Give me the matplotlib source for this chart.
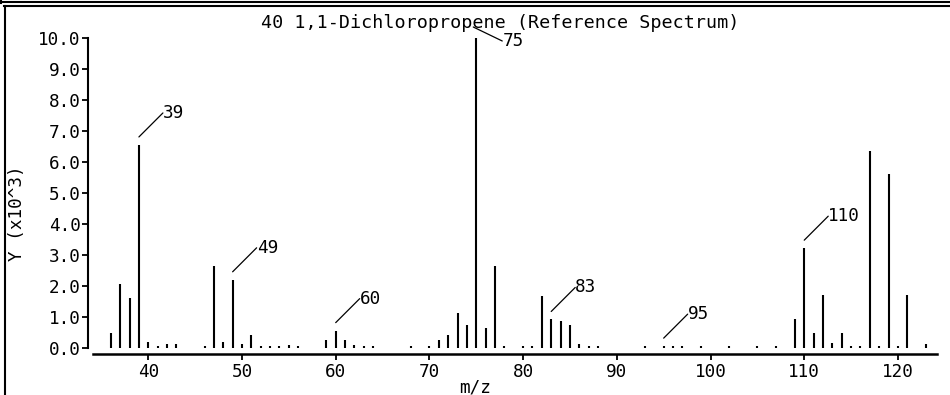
import matplotlib
matplotlib.use('Agg')
import matplotlib.pyplot as plt
from matplotlib.lines import Line2D
from matplotlib.transforms import offset_copy

# mass spectrum, intensities in units of 10^3
mz = [36, 37, 38, 39, 40, 41, 42, 43, 46, 47, 48, 49, 50, 51, 52, 53, 54, 55, 56,
      59, 60, 61, 62, 63, 64, 68, 70, 71, 72, 73, 74, 75, 76, 77, 78, 80, 81,
      82, 83, 84, 85, 86, 87, 88, 93, 95, 96, 97, 99, 102, 105, 107,
      109, 110, 111, 112, 113, 114, 115, 116, 117, 118, 119, 120, 121, 123]
intensity = [0.5, 2.05, 1.6, 6.55, 0.2, 0.06, 0.12, 0.12, 0.06, 2.65, 0.2, 2.2, 0.12, 0.42, 0.06, 0.06, 0.06, 0.1, 0.06,
             0.26, 0.56, 0.26, 0.11, 0.06, 0.06, 0.06, 0.06, 0.26, 0.42, 1.12, 0.73, 10.0, 0.66, 2.65, 0.06, 0.06, 0.06,
             1.67, 0.92, 0.87, 0.73, 0.12, 0.06, 0.06, 0.06, 0.06, 0.06, 0.06, 0.06, 0.06, 0.06, 0.06,
             0.92, 3.22, 0.49, 1.72, 0.17, 0.49, 0.08, 0.08, 6.35, 0.08, 5.6, 0.08, 1.72, 0.13]
labeled = [39, 49, 60, 75, 83, 95, 110]
xticks = [40, 50, 60, 70, 80, 90, 100, 110, 120]
yticks = [0, 1, 2, 3, 4, 5, 6, 7, 8, 9, 10]

title = '40 1,1-Dichloropropene (Reference Spectrum)'
FONT = 'DejaVu Sans Mono'
FS = 13.2

W, H = 950, 395
fig = plt.figure(figsize=(W / 100, H / 100), dpi=100)

def fx(px):
    return px / W

def fy(py):  # py counted from the top
    return 1 - py / H

ax = fig.add_axes([fx(93), fy(354), fx(937 - 93), (354 - 38) / H])
ax.vlines(mz, 0, intensity, color='black', lw=1.5)
ax.set_xlim(34.1, 124.17)
ax.set_ylim(-6 / 31, 10)

for s in ['top', 'right']:
    ax.spines[s].set_visible(False)
ax.spines['left'].set_position(('outward', 3.6))
ax.spines['left'].set_bounds(0, 10)
ax.spines['left'].set_linewidth(1.5)
ax.spines['bottom'].set_linewidth(1.8)

ax.set_xticks(xticks)
ax.set_yticks(yticks)
ax.set_yticklabels(['%.1f' % v for v in yticks])
ax.tick_params(axis='both', direction='out', length=4.3, width=1.3, labelsize=FS - 0.5)
ax.tick_params(axis='x', pad=2.5)
ax.tick_params(axis='y', pad=1)
for lab in ax.get_xticklabels() + ax.get_yticklabels():
    lab.set_family(FONT)

# peak labels with leader lines (offsets in pixels)
offsets = {75: (-3, 11, 26, -3)}
for m in labeled:
    top = intensity[mz.index(m)]
    x0, y0, x1, y1 = offsets.get(m, (0, 8, 24, 32))
    start = offset_copy(ax.transData, fig=fig, x=x0, y=y0, units='dots')
    end = offset_copy(ax.transData, fig=fig, x=x1, y=y1, units='dots')
    ax.annotate('', xy=(m, top), xycoords=start, xytext=(m, top), textcoords=end,
                arrowprops=dict(arrowstyle='-', color='black', lw=0.9, shrinkA=0, shrinkB=0),
                annotation_clip=False)
    ax.text(m, top, str(m), transform=end, ha='left', va='center',
            family=FONT, fontsize=FS - 0.5, clip_on=False)

fig.text(fx(500), fy(28), title, ha='center', va='baseline', family=FONT, fontsize=FS)
fig.text(fx(17.5), fy(213), 'Y (x10^3)', ha='center', va='center', rotation=90,
         family=FONT, fontsize=FS - 0.5)
fig.text(fx(475), fy(392), 'm/z', ha='center', va='baseline', family=FONT, fontsize=FS - 0.5)

# frame lines around the panel
frame = [((0, W), (1.8, 1.8)), ((4, W), (6.2, 6.2)), ((4.5, 4.5), (6, H)), ((1.2, 1.2), (0, 2.5))]
for xs, ys in frame:
    fig.add_artist(Line2D([fx(xs[0]), fx(xs[1])], [fy(ys[0]), fy(ys[1])],
                          transform=fig.transFigure, color='black', lw=1.5))

plt.savefig('out.png', dpi=100)
